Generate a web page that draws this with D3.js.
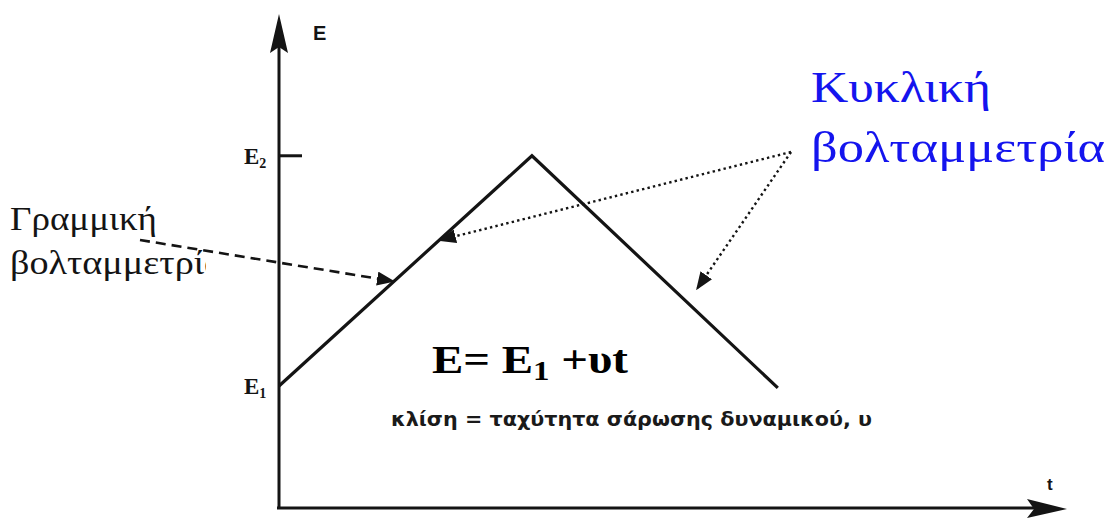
<!DOCTYPE html>
<html>
<head>
<meta charset="utf-8">
<script src="https://cdn.jsdelivr.net/npm/d3@7"></script>
<style>
  html, body { margin: 0; padding: 0; background: #fff; }
  svg { display: block; }
</style>
</head>
<body>
<svg id="chart" width="1112" height="521"></svg>
<script>
// Triangular potential sweep (arbitrary units): start at E1, rise to E2, fall back
const sweepTime = [0, 32.1, 63.3];
const sweepPotential = [24.7, 71.3, 24.3];

// Reference levels marked on the potential axis
const levelNames = ["E1", "E2"];
const levelValues = [24.7, 71.3];

// Text blocks
const axisNames = ["E", "t"];
const linearLabel = ["Γραμμική", "βολταμμετρία"];
const cyclicLabel = ["Κυκλική", "βολταμμετρία"];
const slopeCaption = "κλίση = ταχύτητα σάρωσης δυναμικού, υ";

const svg = d3.select("#chart");
const ink = "#141414";

const x = d3.scaleLinear().domain([0, 100]).range([279, 1067]);
const y = d3.scaleLinear().domain([0, 100]).range([508, 14]);

const defs = svg.append("defs");
defs.append("marker")
  .attr("id", "head")
  .attr("viewBox", "0 0 18 14")
  .attr("refX", 17).attr("refY", 7)
  .attr("markerWidth", 18).attr("markerHeight", 14)
  .attr("markerUnits", "userSpaceOnUse")
  .attr("orient", "auto")
  .append("path").attr("d", "M0,0 L18,7 L0,14 Z").attr("fill", ink);

defs.append("clipPath").attr("id", "leftClip")
  .append("rect").attr("x", 0).attr("y", 190).attr("width", 206).attr("height", 100);

// Axes with arrowheads
const axisG = svg.append("g");
axisG.append("line")
  .attr("x1", x(0)).attr("y1", y(0) + 1)
  .attr("x2", x(0)).attr("y2", y(100) + 30)
  .attr("stroke", ink).attr("stroke-width", 3);
axisG.append("path")
  .attr("d", `M${x(0)},${y(100)} L${x(0) + 9},${y(100) + 39} L${x(0)},${y(100) + 33} L${x(0) - 9},${y(100) + 39} Z`)
  .attr("fill", ink);
axisG.append("line")
  .attr("x1", x(0) - 2).attr("y1", y(0))
  .attr("x2", x(100) - 30).attr("y2", y(0))
  .attr("stroke", ink).attr("stroke-width", 3);
axisG.append("path")
  .attr("d", `M${x(100)},${y(0) + 1} L${x(100) - 40},${y(0) - 9} L${x(100) - 33},${y(0) + 1} L${x(100) - 40},${y(0) + 10} Z`)
  .attr("fill", ink);

// Axis names
svg.append("text").attr("x", 313).attr("y", 40)
  .attr("font-family", "Liberation Sans, Arial, sans-serif").attr("font-weight", "bold")
  .attr("font-size", 20).attr("fill", ink).text(axisNames[0]);
svg.append("text").attr("x", 1047).attr("y", 490)
  .attr("font-family", "Liberation Sans, Arial, sans-serif").attr("font-weight", "bold")
  .attr("font-size", 17).attr("fill", ink).text(axisNames[1]);

// Level tick at E2 and labels for both levels
svg.append("line")
  .attr("x1", x(0)).attr("x2", x(0) + 23)
  .attr("y1", y(levelValues[1])).attr("y2", y(levelValues[1]))
  .attr("stroke", ink).attr("stroke-width", 3);

levelNames.forEach((name, i) => {
  const t = svg.append("text")
    .attr("x", 244).attr("y", y(levelValues[i]) + 8)
    .attr("font-family", "Liberation Serif, Times New Roman, serif").attr("font-weight", "bold")
    .attr("font-size", 23).attr("fill", ink);
  t.append("tspan").text(name[0]);
  t.append("tspan").attr("font-size", 14).attr("dy", 4).text(name.slice(1));
});

// Potential waveform
const wave = sweepTime.map((t, i) => [t, sweepPotential[i]]);
svg.append("path")
  .datum(wave)
  .attr("d", d3.line().x(d => x(d[0])).y(d => y(d[1])))
  .attr("fill", "none").attr("stroke", ink)
  .attr("stroke-width", 3.2).attr("stroke-linejoin", "miter");

// Point on a waveform segment at a given time, optionally shifted off the line
function onSegment(i, t, dx = 0, dy = 0) {
  const f = (t - sweepTime[i]) / (sweepTime[i + 1] - sweepTime[i]);
  return [x(t) + dx, y(sweepPotential[i] + f * (sweepPotential[i + 1] - sweepPotential[i])) + dy];
}

// Linear sweep label and dashed pointer
const linG = svg.append("g").attr("clip-path", "url(#leftClip)");
linG.append("text").attr("x", 10).attr("y", 230)
  .attr("font-family", "Liberation Serif, Times New Roman, serif")
  .attr("font-size", 34).attr("fill", ink)
  .attr("textLength", 147).attr("lengthAdjust", "spacingAndGlyphs")
  .text(linearLabel[0]);
linG.append("text").attr("x", 10).attr("y", 274)
  .attr("font-family", "Liberation Serif, Times New Roman, serif")
  .attr("font-size", 34).attr("fill", ink)
  .attr("textLength", 214).attr("lengthAdjust", "spacingAndGlyphs")
  .text(linearLabel[1]);

const linTarget = onSegment(0, 14.6);
svg.append("line")
  .attr("x1", 140).attr("y1", 240)
  .attr("x2", linTarget[0]).attr("y2", linTarget[1])
  .attr("stroke", ink).attr("stroke-width", 2.6)
  .attr("stroke-dasharray", "10,6")
  .attr("marker-end", "url(#head)");

// Cyclic sweep label and dotted pointers
svg.append("text").attr("x", 811).attr("y", 102)
  .attr("font-family", "Liberation Serif, Times New Roman, serif")
  .attr("font-size", 44).attr("fill", "#1414ee")
  .attr("textLength", 180).attr("lengthAdjust", "spacingAndGlyphs")
  .text(cyclicLabel[0]);
svg.append("text").attr("x", 811).attr("y", 162)
  .attr("font-family", "Liberation Serif, Times New Roman, serif")
  .attr("font-size", 44).attr("fill", "#1414ee")
  .attr("textLength", 294).attr("lengthAdjust", "spacingAndGlyphs")
  .text(cyclicLabel[1]);

const origin = [791, 152];
const cycTargets = [onSegment(0, 20.3), onSegment(1, 53.0, 0, -22)];
svg.selectAll("line.dot").data(cycTargets).join("line")
  .attr("class", "dot")
  .attr("x1", origin[0]).attr("y1", origin[1])
  .attr("x2", d => d[0]).attr("y2", d => d[1])
  .attr("stroke", ink).attr("stroke-width", 2.4)
  .attr("stroke-dasharray", "2.4,3.2")
  .attr("marker-end", "url(#head)");

// Sweep equation
const eq = svg.append("text").attr("x", 432).attr("y", 373)
  .attr("font-family", "Liberation Serif, Times New Roman, serif").attr("font-weight", "bold")
  .attr("font-size", 40).attr("fill", "#000")
  .attr("textLength", 196).attr("lengthAdjust", "spacingAndGlyphs");
eq.append("tspan").text("E= E");
eq.append("tspan").attr("font-size", 28).attr("dy", 7).text("1");
eq.append("tspan").attr("dy", -7).text(" +υt");

// Slope caption
svg.append("text").attr("x", 391).attr("y", 426)
  .attr("font-family", "DejaVu Sans, sans-serif").attr("font-weight", "bold")
  .attr("font-size", 19).attr("fill", "#1a1a1a")
  .attr("textLength", 481).attr("lengthAdjust", "spacingAndGlyphs")
  .text(slopeCaption);
</script>
</body>
</html>
